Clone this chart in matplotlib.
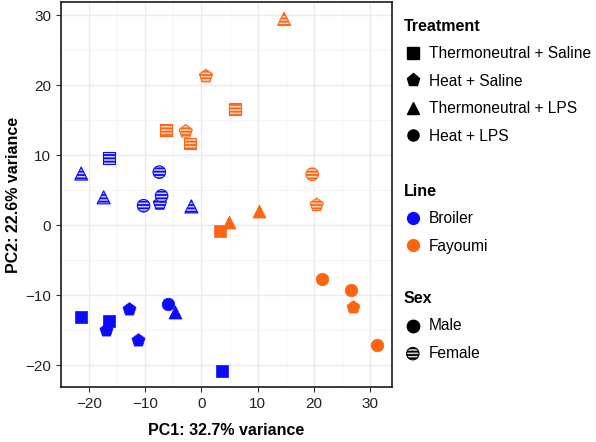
import matplotlib.pyplot as plt
from matplotlib.lines import Line2D

plt.rcParams['font.family'] = ['Liberation Sans', 'DejaVu Sans']
plt.rcParams['hatch.linewidth'] = 1.3

# PCA scores
line = ['Broiler'] * 16 + ['Fayoumi'] * 15
sex = (['Female'] * 8 + ['Male'] * 8 + ['Female'] * 8 + ['Male'] * 7)
treatment = [
    # Broiler female
    'TN+LPS', 'TN+LPS', 'TN+LPS', 'TN+Saline', 'Heat+LPS', 'Heat+LPS', 'Heat+LPS', 'Heat+Saline',
    # Broiler male
    'TN+Saline', 'TN+Saline', 'TN+Saline', 'Heat+Saline', 'Heat+Saline', 'Heat+Saline', 'Heat+LPS', 'TN+LPS',
    # Fayoumi female
    'TN+LPS', 'Heat+Saline', 'TN+Saline', 'TN+Saline', 'Heat+Saline', 'TN+Saline', 'Heat+LPS', 'Heat+Saline',
    # Fayoumi male
    'TN+Saline', 'TN+LPS', 'TN+LPS', 'Heat+LPS', 'Heat+LPS', 'Heat+Saline', 'Heat+LPS',
]
pc1 = [-21.4, -17.4, -1.8, -16.5, -7.5, -10.3, -7.1, -7.4,
       -21.5, -16.5, 3.7, -12.9, -17.0, -11.3, -5.9, -4.7,
       14.7, 0.8, 5.9, -6.3, -2.8, -2.0, 19.7, 20.5,
       3.3, 4.9, 10.3, 21.5, 26.6, 27.0, 31.3]
pc2 = [7.4, 4.0, 2.7, 9.6, 7.6, 2.8, 4.2, 3.1,
       -13.1, -13.6, -20.8, -11.9, -15.0, -16.4, -11.3, -12.4,
       29.5, 21.3, 16.6, 13.6, 13.4, 11.7, 7.3, 2.9,
       -0.8, 0.5, 2.0, -7.7, -9.2, -11.6, -17.1]

treat_labels = {'TN+Saline': 'Thermoneutral + Saline', 'Heat+Saline': 'Heat + Saline',
                'TN+LPS': 'Thermoneutral + LPS', 'Heat+LPS': 'Heat + LPS'}
markers = {'TN+Saline': 's', 'Heat+Saline': 'p', 'TN+LPS': '^', 'Heat+LPS': 'o'}
sizes = {'TN+Saline': 72, 'Heat+Saline': 98, 'TN+LPS': 88, 'Heat+LPS': 82}
colors = {'Broiler': '#0a0aff', 'Fayoumi': '#ff6410'}
tints = {'Broiler': '#d4d4ff', 'Fayoumi': '#ffd8c4'}

fig = plt.figure(figsize=(5.96, 4.42), dpi=100)
ax = fig.add_axes([0.1023, 0.1244, 0.5554, 0.8710])

for ln in ['Broiler', 'Fayoumi']:
    for sx in ['Male', 'Female']:
        for tr in markers:
            xs = [x for x, l, s, t in zip(pc1, line, sex, treatment) if l == ln and s == sx and t == tr]
            ys = [y for y, l, s, t in zip(pc2, line, sex, treatment) if l == ln and s == sx and t == tr]
            if not xs:
                continue
            if sx == 'Male':
                ax.scatter(xs, ys, marker=markers[tr], s=sizes[tr], c=colors[ln],
                           edgecolors=colors[ln], linewidths=0.5, zorder=3)
            else:
                ax.scatter(xs, ys, marker=markers[tr], s=sizes[tr], facecolors=tints[ln],
                           edgecolors=colors[ln], linewidths=0.8, hatch='-----', zorder=3)

ax.set_xlim(-24.1, 33.9)
ax.set_ylim(-23.1, 31.9)
ax.set_xticks([-20, -10, 0, 10, 20, 30])
ax.set_yticks([-20, -10, 0, 10, 20, 30])
ax.set_xticks([-25, -15, -5, 5, 15, 25], minor=True)
ax.set_yticks([-15, -5, 5, 15, 25], minor=True)
ax.grid(which='major', color='#ebebeb', linewidth=1.0)
ax.grid(which='minor', color='#f2f2f2', linewidth=0.6)
ax.set_axisbelow(True)
ax.tick_params(which='major', length=3.5, width=0.8, color='#333333',
               labelsize=11, labelcolor='#222222')
ax.tick_params(which='minor', length=0)
for sp in ax.spines.values():
    sp.set_color('#1a1a1a')
    sp.set_linewidth(1.2)

ax.set_xlabel('PC1: 32.7% variance', fontsize=11.5, fontweight='bold', labelpad=9)
ax.set_ylabel('PC2: 22.6% variance', fontsize=11.5, fontweight='bold', labelpad=3)

# legends
leg_kw = dict(loc='upper left', frameon=False, borderpad=0, borderaxespad=0,
              fontsize=11.2, handlelength=1.2, handletextpad=0.45, labelspacing=0.8,
              alignment='left', title_fontproperties={'weight': 'bold', 'size': 11.5})

h_treat = [Line2D([], [], linestyle='none', marker=markers[t], color='black',
                  markersize=8 if t != 'Heat+Saline' else 9.5) for t in markers]
leg1 = fig.legend(h_treat, [treat_labels[t] for t in markers], title='Treatment',
                  bbox_to_anchor=(0.677, 0.957), **leg_kw)

h_line = [Line2D([], [], linestyle='none', marker='o', color=colors[l], markersize=8.5)
          for l in colors]
leg2 = fig.legend(h_line, list(colors), title='Line',
                  bbox_to_anchor=(0.677, 0.584), **leg_kw)

h_male = ax.scatter([], [], marker='o', s=80, c='black', edgecolors='black')
h_female = ax.scatter([], [], marker='o', s=80, facecolors='#d9d9d9', edgecolors='black',
                      linewidths=0.8, hatch='-----')
leg3 = fig.legend([h_male, h_female], ['Male', 'Female'], title='Sex',
                  bbox_to_anchor=(0.677, 0.342), **leg_kw)

fig.savefig('out.png', dpi=100)
